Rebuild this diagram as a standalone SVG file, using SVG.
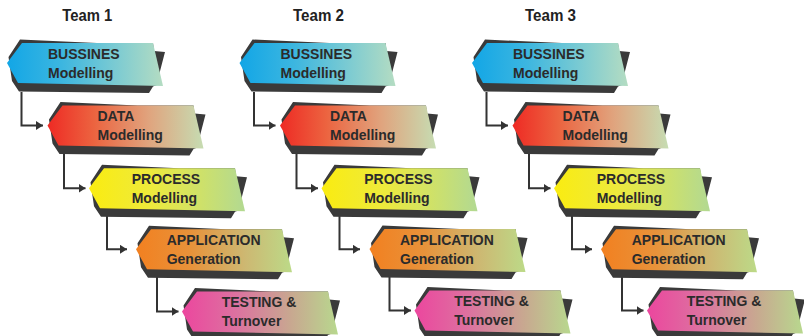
<svg xmlns="http://www.w3.org/2000/svg" width="804" height="336" viewBox="0 0 804 336">
<defs>
  <linearGradient id="gBus" x1="0" y1="0" x2="1" y2="0">
    <stop offset="0" stop-color="#12a6e6"/>
    <stop offset="0.35" stop-color="#3cb6e0"/>
    <stop offset="0.7" stop-color="#7ccbd2"/>
    <stop offset="1" stop-color="#b4dcc2"/>
  </linearGradient>
  <linearGradient id="gData" x1="0" y1="0" x2="1" y2="0">
    <stop offset="0" stop-color="#ee2a24"/>
    <stop offset="0.3" stop-color="#ec6440"/>
    <stop offset="0.65" stop-color="#e0a47e"/>
    <stop offset="1" stop-color="#c6dcb2"/>
  </linearGradient>
  <linearGradient id="gProc" x1="0" y1="0" x2="1" y2="0">
    <stop offset="0" stop-color="#faec10"/>
    <stop offset="0.4" stop-color="#eeea3c"/>
    <stop offset="1" stop-color="#b2d992"/>
  </linearGradient>
  <linearGradient id="gApp" x1="0" y1="0" x2="1" y2="0">
    <stop offset="0" stop-color="#f28020"/>
    <stop offset="0.35" stop-color="#e8923a"/>
    <stop offset="0.7" stop-color="#cdb872"/>
    <stop offset="1" stop-color="#bcda88"/>
  </linearGradient>
  <linearGradient id="gTest" x1="0" y1="0" x2="1" y2="0">
    <stop offset="0" stop-color="#ec469e"/>
    <stop offset="0.35" stop-color="#dc72a0"/>
    <stop offset="0.7" stop-color="#c8a890"/>
    <stop offset="1" stop-color="#b8d88e"/>
  </linearGradient>
  <path id="shadow" d="M1.5,-6 L13,-23.5 L90,-20 L146,-20 L147,-12 L158,-11 L152,12 L150,22 L146,23.5 L142,30 L12,28.5 L5,18 Z"/>
  <path id="body" d="M0,0 L15,-20 L146,-20 L156,23 L11,20 Z"/>
  <marker id="arrow" markerWidth="8" markerHeight="9" refX="7" refY="4.5" orient="auto" markerUnits="userSpaceOnUse">
    <path d="M0,0 L7,4.5 L0,9 Z" fill="#333333"/>
  </marker>
</defs>
<style>
  .shadow{fill:#3a3a3a}
  .lbl{font-family:"Liberation Sans",Arial,sans-serif;font-weight:bold;font-size:14px;fill:#2b2b2b}
  .title{font-family:"Liberation Sans",Arial,sans-serif;font-weight:bold;font-size:16px;fill:#222222}
  .conn{fill:none;stroke:#333333;stroke-width:2;marker-end:url(#arrow)}
</style>
<rect width="804" height="336" fill="#ffffff"/>

<g id="titles">
  <text id="team1-title" class="title" x="62.3" y="21" textLength="50" lengthAdjust="spacingAndGlyphs">Team 1</text>
  <text id="team2-title" class="title" x="293" y="21" textLength="51" lengthAdjust="spacingAndGlyphs">Team 2</text>
  <text id="team3-title" class="title" x="525" y="21" textLength="51" lengthAdjust="spacingAndGlyphs">Team 3</text>
</g>

<g id="connectors">
  <path class="conn" d="M21.5,92 V125.5 H43"/>
  <path class="conn" d="M64,154 V188.3 H85.5"/>
  <path class="conn" d="M107,215 V249.3 H127"/>
  <path class="conn" d="M157,277 V311.5 H178.5"/>
  <path class="conn" d="M254,92 V125.5 H275.5"/>
  <path class="conn" d="M296.5,154 V188.3 H318"/>
  <path class="conn" d="M339.5,215 V249.3 H360"/>
  <path class="conn" d="M389.5,277 V310.5 H411"/>
  <path class="conn" d="M486.5,92 V125.5 H508"/>
  <path class="conn" d="M529,154 V188.3 H550.5"/>
  <path class="conn" d="M572,215 V249.3 H592"/>
  <path class="conn" d="M622,277 V310.5 H643.5"/>
</g>

<!-- Team 1 -->
<g id="t1-business" transform="translate(7,63)">
  <use href="#shadow" class="shadow"/><use href="#body" fill="url(#gBus)"/>
  <text class="lbl" x="41" y="-4.5">BUSSINES</text><text class="lbl" x="41" y="14.5">Modelling</text>
</g>
<g id="t1-data" transform="translate(47.5,125.5)">
  <use href="#shadow" class="shadow"/><use href="#body" fill="url(#gData)"/>
  <text class="lbl" x="50" y="-4.5">DATA</text><text class="lbl" x="50" y="14.5">Modelling</text>
</g>
<g id="t1-process" transform="translate(89,188.3)">
  <use href="#shadow" class="shadow"/><use href="#body" fill="url(#gProc)"/>
  <text class="lbl" x="42.7" y="-4.5">PROCESS</text><text class="lbl" x="42.7" y="14.5">Modelling</text>
</g>
<g id="t1-application" transform="translate(136,249.3)">
  <use href="#shadow" class="shadow"/><use href="#body" fill="url(#gApp)"/>
  <text class="lbl" x="30.7" y="-4.5">APPLICATION</text><text class="lbl" x="30.7" y="14.5">Generation</text>
</g>
<g id="t1-testing" transform="translate(182,311.5)">
  <use href="#shadow" class="shadow"/><use href="#body" fill="url(#gTest)"/>
  <text class="lbl" x="39.7" y="-4.5">TESTING &amp;</text><text class="lbl" x="39.7" y="14.5">Turnover</text>
</g>

<!-- Team 2 -->
<g id="t2-business" transform="translate(239.5,63)">
  <use href="#shadow" class="shadow"/><use href="#body" fill="url(#gBus)"/>
  <text class="lbl" x="41" y="-4.5">BUSSINES</text><text class="lbl" x="41" y="14.5">Modelling</text>
</g>
<g id="t2-data" transform="translate(280,125.5)">
  <use href="#shadow" class="shadow"/><use href="#body" fill="url(#gData)"/>
  <text class="lbl" x="50" y="-4.5">DATA</text><text class="lbl" x="50" y="14.5">Modelling</text>
</g>
<g id="t2-process" transform="translate(321.5,188.3)">
  <use href="#shadow" class="shadow"/><use href="#body" fill="url(#gProc)"/>
  <text class="lbl" x="42.7" y="-4.5">PROCESS</text><text class="lbl" x="42.7" y="14.5">Modelling</text>
</g>
<g id="t2-application" transform="translate(369.5,249)">
  <use href="#shadow" class="shadow"/><use href="#body" fill="url(#gApp)"/>
  <text class="lbl" x="30.5" y="-4.5">APPLICATION</text><text class="lbl" x="30.5" y="14.5">Generation</text>
</g>
<g id="t2-testing" transform="translate(414.5,310.5)">
  <use href="#shadow" class="shadow"/><use href="#body" fill="url(#gTest)"/>
  <text class="lbl" x="39.7" y="-4.5">TESTING &amp;</text><text class="lbl" x="39.7" y="14.5">Turnover</text>
</g>

<!-- Team 3 -->
<g id="t3-business" transform="translate(472,63)">
  <use href="#shadow" class="shadow"/><use href="#body" fill="url(#gBus)"/>
  <text class="lbl" x="41" y="-4.5">BUSSINES</text><text class="lbl" x="41" y="14.5">Modelling</text>
</g>
<g id="t3-data" transform="translate(512.5,125.5)">
  <use href="#shadow" class="shadow"/><use href="#body" fill="url(#gData)"/>
  <text class="lbl" x="50" y="-4.5">DATA</text><text class="lbl" x="50" y="14.5">Modelling</text>
</g>
<g id="t3-process" transform="translate(554,188.3)">
  <use href="#shadow" class="shadow"/><use href="#body" fill="url(#gProc)"/>
  <text class="lbl" x="42.7" y="-4.5">PROCESS</text><text class="lbl" x="42.7" y="14.5">Modelling</text>
</g>
<g id="t3-application" transform="translate(601,249.3)">
  <use href="#shadow" class="shadow"/><use href="#body" fill="url(#gApp)"/>
  <text class="lbl" x="30.7" y="-4.5">APPLICATION</text><text class="lbl" x="30.7" y="14.5">Generation</text>
</g>
<g id="t3-testing" transform="translate(647,310.5)">
  <use href="#shadow" class="shadow"/><use href="#body" fill="url(#gTest)"/>
  <text class="lbl" x="39.7" y="-4.5">TESTING &amp;</text><text class="lbl" x="39.7" y="14.5">Turnover</text>
</g>
</svg>
